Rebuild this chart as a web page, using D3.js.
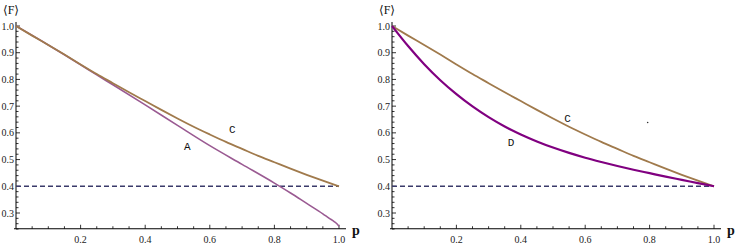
<!DOCTYPE html>
<html>
<head>
<meta charset="utf-8">
<script src="https://cdn.jsdelivr.net/npm/d3@7"></script>
<style>
  body { margin: 0; background: #fff; }
  svg { display: block; }
</style>
</head>
<body>
<div id="chart"></div>
<script>
// values
const pGrid = [0, 0.05, 0.1, 0.15, 0.2, 0.25, 0.3, 0.35, 0.4, 0.45, 0.5, 0.55, 0.6, 0.65, 0.7, 0.75, 0.8, 0.85, 0.9, 0.95, 1.0];
const cVals = [1.0, 0.964, 0.929, 0.893, 0.856, 0.82, 0.786, 0.752, 0.719, 0.686, 0.654, 0.623, 0.594, 0.566, 0.54, 0.514, 0.49, 0.466, 0.443, 0.421, 0.4];
const dVals = [1.0, 0.925, 0.857, 0.797, 0.745, 0.699, 0.659, 0.624, 0.594, 0.568, 0.545, 0.525, 0.507, 0.491, 0.476, 0.462, 0.449, 0.436, 0.424, 0.412, 0.4];
const aP = [0, 0.1, 0.2, 0.25, 0.3, 0.4, 0.5, 0.6, 0.7, 0.8, 0.85, 0.9, 0.95, 0.97, 0.985, 0.995, 1.0];
const aVals = [1.0, 0.929, 0.855, 0.817, 0.78, 0.705, 0.628, 0.552, 0.482, 0.412, 0.375, 0.336, 0.297, 0.28, 0.268, 0.258, 0.25];
const refLine = 0.4;
const xTicks = [0.2, 0.4, 0.6, 0.8, 1.0];
const yTicks = [0.3, 0.4, 0.5, 0.6, 0.7, 0.8, 0.9, 1.0];

const W = 747, H = 245;
const serif = "'Liberation Serif', 'DejaVu Serif', serif";
const svg = d3.select("#chart").append("svg").attr("width", W).attr("height", H);

const colC = "#a07a4c", colA = "#9a5a92", colD = "#800080", colDash = "#3a3a6a";

function panel(x0, x1, series, labels) {
    const x = d3.scaleLinear().domain([0, 1]).range([x0, x1]);
    const y = d3.scaleLinear().domain([0.3, 1.0]).range([213, 26]);
    const axisY = y(0.241);
    const g = svg.append("g");

    // axes lines
    g.append("line").attr("x1", x0 - 2).attr("x2", x1 + 7).attr("y1", axisY).attr("y2", axisY)
        .attr("stroke", "#000").attr("stroke-width", 1);
    g.append("line").attr("x1", x0).attr("x2", x0).attr("y1", axisY).attr("y2", y(1.015))
        .attr("stroke", "#000").attr("stroke-width", 1);

    // x ticks every 0.05
    d3.range(1, 21).forEach(i => {
        const major = i % 4 === 0;
        g.append("line").attr("x1", x(i * 0.05)).attr("x2", x(i * 0.05))
            .attr("y1", axisY).attr("y2", axisY - (major ? 4 : 2.5))
            .attr("stroke", "#000").attr("stroke-width", 0.8);
    });
    xTicks.forEach(v => {
        g.append("text").attr("x", x(v)).attr("y", axisY + 14)
            .attr("font-family", serif).attr("font-size", 10).attr("fill", "#222")
            .attr("text-anchor", "middle").text(v.toFixed(1));
    });

    // y ticks every 0.02
    d3.range(12, 51).forEach(i => {
        const major = i % 5 === 0;
        g.append("line").attr("x1", x0).attr("x2", x0 + (major ? 4 : 2.5))
            .attr("y1", y(i * 0.02)).attr("y2", y(i * 0.02))
            .attr("stroke", "#000").attr("stroke-width", 0.8);
    });
    yTicks.forEach(v => {
        g.append("text").attr("x", x0 - 2).attr("y", y(v) + 3.5)
            .attr("font-family", serif).attr("font-size", 10).attr("fill", "#222")
            .attr("text-anchor", "end").text(v.toFixed(1));
    });

    // dashed reference
    g.append("line").attr("x1", x(0)).attr("x2", x(1)).attr("y1", y(refLine)).attr("y2", y(refLine))
        .attr("stroke", colDash).attr("stroke-width", 1.6).attr("stroke-dasharray", "5,3");

    const line = d3.line().x(d => x(d[0])).y(d => y(d[1])).curve(d3.curveMonotoneX);
    series.forEach(s => {
        g.append("path").datum(d3.zip(s.p, s.v)).attr("d", line)
            .attr("fill", "none").attr("stroke", s.color).attr("stroke-width", s.w);
    });

    labels.forEach(l => {
        g.append("text").attr("x", x(l.p)).attr("y", y(l.v))
            .attr("font-family", "'Liberation Mono', 'DejaVu Sans Mono', monospace")
            .attr("font-size", 11).attr("fill", "#111")
            .attr("text-anchor", "middle").text(l.t);
    });

    g.append("text").attr("x", x0 - 5).attr("y", 14)
        .attr("font-family", serif).attr("font-size", 12).attr("fill", "#111")
        .attr("text-anchor", "middle").text("\u27E8F\u27E9");
    g.append("text").attr("x", x1 + 13).attr("y", axisY + 6)
        .attr("font-family", serif).attr("font-size", 14).attr("font-weight", "bold")
        .attr("fill", "#111").text("p");
    return {x, y, g};
}

const left = panel(16, 339, [
    {p: aP, v: aVals, color: colA, w: 1.6},
    {p: pGrid, v: cVals, color: colC, w: 1.8}
], [
    {t: "C", p: 0.67, v: 0.6},
    {t: "A", p: 0.53, v: 0.535}
]);

const right = panel(392, 714, [
    {p: pGrid, v: cVals, color: colC, w: 1.8},
    {p: pGrid, v: dVals, color: colD, w: 2.2}
], [
    {t: "C", p: 0.545, v: 0.64},
    {t: "D", p: 0.37, v: 0.55}
]);

// small stray dot in the right panel
right.g.append("circle").attr("cx", right.x(0.794)).attr("cy", right.y(0.639)).attr("r", 0.8).attr("fill", "#333");
</script>
</body>
</html>
